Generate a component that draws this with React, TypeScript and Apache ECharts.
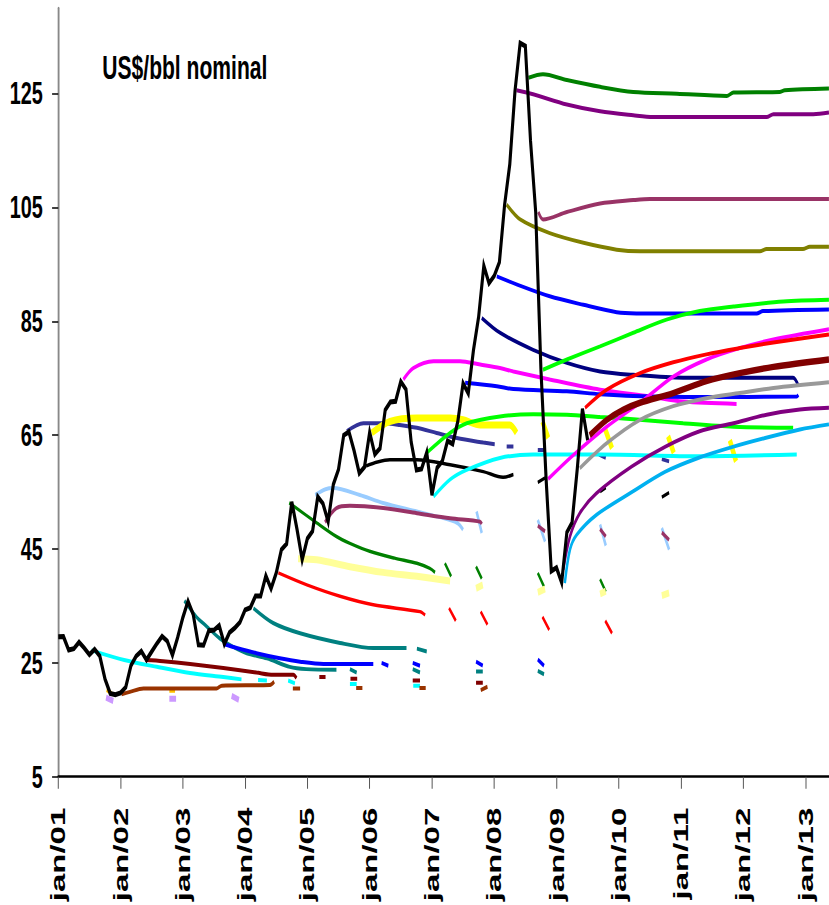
import React, { useEffect, useRef } from 'react';
import * as echarts from 'echarts';

type Pt = [number, number];

// The reference is horizontally squeezed; we draw wide and squeeze with CSS.
const SQUEEZE = 0.62;
const PAGE_W = 829;
const PAGE_H = 905;
const CHART_W = Math.round(PAGE_W / SQUEEZE);

const unitTitle = 'US$/bbl nominal';
const yTickLabels = [5, 25, 45, 65, 85, 105, 125];
const xTickLabels = ['jan/01', 'jan/02', 'jan/03', 'jan/04', 'jan/05', 'jan/06', 'jan/07', 'jan/08', 'jan/09', 'jan/10', 'jan/11', 'jan/12', 'jan/13'];

// Monthly spot price, Jan 2001 .. Jul 2009 (x = months since Jan 2001)
const spotHistory = [
  29.59, 29.61, 27.25, 27.49, 28.63, 27.6, 26.43, 27.37, 26.2, 22.17, 19.64, 19.39,
  19.72, 20.72, 24.53, 26.18, 27.04, 25.52, 26.97, 28.39, 29.66, 28.84, 26.35, 29.46,
  32.95, 35.83, 33.51, 28.17, 28.11, 30.66, 30.76, 31.57, 28.31, 30.34, 31.11, 32.13,
  34.31, 34.69, 36.74, 36.75, 40.28, 38.03, 40.78, 44.9, 45.94, 53.28, 48.47, 43.15,
  46.84, 48.15, 54.19, 52.98, 49.83, 56.35, 59.0, 64.99, 65.59, 62.26, 58.32, 59.41,
  65.49, 61.63, 62.69, 69.44, 70.84, 70.95, 74.41, 73.04, 63.8, 58.89, 59.08, 61.96,
  54.51, 59.28, 60.44, 63.98, 63.46, 67.49, 74.12, 72.36, 79.92, 85.8, 94.77, 91.69,
  92.97, 95.39, 105.45, 112.58, 125.4, 133.88, 133.37, 116.67, 104.11, 76.61, 57.31, 41.12,
  41.71, 39.09, 47.94, 49.65, 59.03, 69.64, 64.15,
];

// Forward curves: segments of [month, price]
const cyanEarly: Pt[][] = [
  [[6.4, 27.2], [12.7, 25.5], [19.0, 24.3], [25.4, 23.2], [31.8, 22.5], [35.3, 22.1]],
  [[38.5, 22.0], [40.2, 21.9]], [[44.3, 21.9], [45.6, 21.4]], [[56.2, 21.3], [57.5, 21.3]], [[68.4, 21.0], [69.7, 21.0]],
];
const orangeDashes: Pt[][] = [[[9.3, 20.2], [10.3, 19.7]], [[21.4, 20.1], [22.5, 20.1]]];
const lavenderDashes: Pt[][] = [[[9.2, 18.9], [10.6, 18.3]], [[21.4, 18.7], [22.7, 18.7]], [[33.4, 19.2], [34.8, 18.5]]];
const brownCurve: Pt[][] = [
  [[12.2, 19.5], [13.8, 19.9], [16.4, 20.5], [22.2, 20.5], [30.5, 20.5], [31.5, 21.0], [40.8, 21.1], [41.6, 21.7]],
  [[45.2, 20.5], [46.6, 20.5]], [[57.4, 20.6], [58.6, 20.6]], [[69.6, 20.6], [70.8, 20.6]], [[81.4, 20.2], [82.7, 20.8]],
];
const maroonCurve: Pt[][] = [
  [[16.8, 25.5], [20.2, 25.3], [25.4, 24.8], [31.8, 24.1], [38.2, 23.3], [41.4, 22.9], [45.3, 22.9], [45.9, 22.3]],
  [[50.3, 22.5], [51.5, 22.5]], [[56.3, 22.2], [57.6, 22.2]], [[68.3, 21.9], [69.7, 21.9]], [[80.5, 21.5], [81.8, 21.5]],
];
const tealEarly: Pt[][] = [
  [[24.3, 35.9], [26.6, 33.1], [28.6, 31.4], [31.1, 29.3], [33.7, 27.8], [36.3, 26.7], [40.2, 25.8], [44.6, 24.3], [47.8, 23.9], [53.6, 23.8]],
  [[56.2, 23.9], [57.5, 23.3]], [[68.3, 23.9], [69.7, 23.3]], [[80.5, 23.5], [81.8, 23.5]], [[92.4, 23.6], [93.6, 23.0]],
];
const blueEarly: Pt[][] = [
  [[31.8, 28.3], [34.4, 27.6], [38.2, 26.7], [42.7, 25.8], [46.6, 25.2], [51.1, 24.8], [60.7, 24.8]],
  [[62.3, 25.0], [63.6, 24.5]], [[68.3, 25.0], [69.7, 24.5]], [[80.5, 25.2], [81.8, 24.5]], [[92.4, 25.6], [93.6, 24.5]],
];
const tealLater: Pt[][] = [
  [[37.6, 34.6], [41.4, 32.0], [46.6, 30.2], [54.3, 28.5], [60.7, 27.6], [67.1, 27.6]],
  [[69.1, 27.5], [71.0, 27.0]],
];
const redEarly: Pt[][] = [
  [[42.4, 40.8], [47.9, 38.7], [54.3, 36.7], [60.7, 35.2], [69.7, 34.0], [70.7, 33.4]],
  [[75.3, 34.6], [76.6, 32.4]], [[81.4, 34.0], [82.7, 31.7]], [[93.3, 33.1], [94.6, 30.8]], [[105.4, 32.4], [106.7, 30.2]],
];
const greenEarly: Pt[][] = [
  [[44.5, 53.1], [49.8, 49.6], [53.6, 47.2], [56.2, 46.0], [60.0, 44.6], [64.8, 43.4], [69.1, 42.5], [71.6, 41.6], [72.6, 40.9]],
  [[74.5, 42.5], [75.7, 40.2]], [[80.5, 41.9], [81.6, 39.8]], [[92.4, 40.8], [93.6, 38.4]], [[104.4, 39.7], [105.5, 37.5]],
];
const paleYellow: Pt[][] = [
  [[46.2, 43.3], [49.8, 43.1], [56.2, 41.9], [62.6, 40.9], [69.1, 40.2], [75.5, 39.4]],
  [[80.5, 38.1], [81.8, 38.7]], [[92.4, 37.4], [93.8, 38.0]], [[104.4, 37.1], [105.5, 37.6]], [[116.3, 36.8], [117.7, 37.3]],
];
const paleBlue: Pt[][] = [
  [[49.5, 54.5], [51.5, 55.5], [53.0, 55.7], [58.1, 54.5], [62.6, 53.1], [69.1, 51.6], [75.5, 50.1], [77.0, 49.5], [78.0, 48.4]],
  [[80.6, 51.6], [81.6, 47.8]], [[92.4, 50.1], [93.8, 46.3]], [[104.4, 49.3], [105.5, 45.6]], [[116.3, 48.7], [117.7, 44.9]],
];
const plumEarly: Pt[][] = [
  [[51.4, 49.7], [53.6, 52.2], [56.2, 52.6], [62.6, 52.2], [69.1, 51.3], [75.5, 50.4], [81.3, 49.8], [81.6, 49.4]],
  [[92.4, 49.1], [93.8, 48.1]], [[104.4, 48.5], [105.5, 47.2]], [[116.3, 47.9], [117.7, 46.6]],
];
const slateCurve: Pt[][] = [
  [[55.6, 65.7], [58.8, 67.1], [62.6, 67.1], [65.8, 66.8], [69.1, 66.3], [72.9, 65.4], [76.8, 64.5], [81.9, 63.7], [84.1, 63.4]],
  [[86.4, 63.0], [87.7, 63.0]], [[92.4, 62.4], [93.8, 62.4]], [[104.2, 61.6], [105.5, 61.0]], [[116.3, 60.8], [117.7, 60.4]],
];
const blackForward: Pt[][] = [
  [[59.3, 59.6], [61.5, 60.3], [63.9, 60.7], [69.1, 60.7], [75.5, 59.8], [81.9, 58.6], [85.7, 57.6], [87.7, 58.1]],
  [[92.4, 56.7], [93.8, 57.5]], [[104.4, 55.1], [105.5, 55.8]], [[116.3, 54.1], [117.7, 54.9]],
];
const yellowCurve: Pt[][] = [
  [[60.4, 65.4], [63.9, 67.4], [69.1, 68.0], [75.5, 68.0], [78.0, 67.7], [81.3, 66.8], [87.0, 66.8], [88.3, 65.4]],
  [[93.3, 67.4], [94.4, 64.5]], [[105.4, 66.0], [106.7, 62.7]], [[117.5, 64.8], [118.6, 61.9]], [[129.4, 64.1], [130.6, 60.4]],
];
const magentaMid: Pt[][] = [
  [[66.5, 74.8], [68.4, 76.8], [72.3, 78.0], [77.4, 78.0], [81.3, 77.4], [85.1, 76.8], [87.7, 76.2], [94.7, 74.8], [104.4, 73.0], [114.0, 71.8], [120.4, 70.9], [130.7, 70.5]],
];
const blueMid: Pt[][] = [
  [[78.4, 74.2], [84.5, 73.6], [87.7, 73.1], [98.0, 72.7], [104.4, 72.2], [110.8, 71.9], [123.6, 71.7], [142.3, 71.8], [142.6, 72.1]],
];
const limeLow: Pt[][] = [
  [[71.0, 61.9], [75.5, 65.4], [78.7, 67.1], [85.1, 68.3], [91.5, 68.7], [98.0, 68.6], [104.4, 68.2], [110.8, 67.8], [120.4, 67.1], [130.1, 66.5], [141.6, 66.3]],
];
const cyanMid: Pt[][] = [
  [[72.3, 54.2], [75.5, 57.2], [78.7, 58.9], [85.1, 61.0], [91.5, 61.6], [104.4, 61.6], [123.6, 61.3], [142.3, 61.6]],
];
const navyCurve: Pt[][] = [
  [[81.6, 85.6], [85.1, 83.0], [91.5, 80.0], [98.0, 77.7], [104.4, 76.2], [110.8, 75.6], [120.4, 75.1], [141.6, 75.1], [142.6, 73.7]],
];
const blueHigh: Pt[][] = [
  [[84.5, 92.9], [88.3, 91.5], [94.7, 89.4], [101.2, 87.9], [107.6, 86.6], [111.4, 86.4], [134.6, 86.4], [135.8, 86.8], [148.5, 87.1]],
];
const oliveCurve: Pt[][] = [
  [[86.4, 105.5], [89.0, 102.9], [94.7, 100.5], [101.2, 98.8], [107.6, 97.6], [112.1, 97.3], [135.2, 97.3], [136.5, 97.7], [143.5, 97.7], [144.8, 98.1], [148.5, 98.1]],
];
const purpleHigh: Pt[][] = [
  [[88.3, 125.6], [91.5, 124.9], [98.0, 123.1], [104.4, 121.9], [110.8, 121.2], [114.6, 120.9], [136.5, 120.9], [137.8, 121.4], [145.5, 121.4], [148.5, 121.7]],
];
const greenHigh: Pt[][] = [
  [[90.6, 127.8], [93.4, 128.4], [98.0, 127.4], [104.4, 126.2], [110.8, 125.3], [119.2, 125.0], [128.8, 124.6], [130.1, 125.2], [139.0, 125.3], [140.0, 125.6], [148.5, 125.9]],
];
const plumHigh: Pt[][] = [
  [[92.5, 104.2], [93.4, 102.9], [98.0, 104.2], [104.4, 105.7], [110.8, 106.3], [114.0, 106.5], [148.5, 106.5]],
];
const limeHigh: Pt[][] = [
  [[93.4, 76.5], [98.0, 78.3], [104.4, 80.6], [110.8, 83.0], [117.2, 85.3], [123.6, 86.8], [130.1, 87.6], [139.7, 88.5], [148.5, 88.8]],
];
const magentaLate: Pt[][] = [
  [[94.4, 57.3], [99.0, 61.3], [105.7, 66.5], [112.1, 70.7], [118.5, 75.3], [124.9, 78.3], [131.3, 80.3], [137.8, 81.8], [148.5, 83.6]],
];
const purpleLow: Pt[][] = [
  [[97.3, 41.4], [98.6, 47.2], [100.5, 51.3], [103.7, 54.8], [110.5, 59.5], [117.0, 63.0], [123.6, 65.7], [130.1, 67.1], [136.5, 68.6], [142.9, 69.5], [148.5, 69.8]],
];
const skyLow: Pt[][] = [
  [[97.6, 39.0], [98.6, 44.9], [99.9, 47.5], [103.7, 51.0], [110.5, 55.0], [117.0, 58.6], [123.3, 61.0], [129.8, 62.9], [136.2, 64.5], [142.9, 66.0], [148.5, 66.9]],
];
const grayCurve: Pt[][] = [
  [[100.5, 59.2], [105.7, 63.6], [112.1, 67.7], [118.5, 70.1], [124.9, 71.5], [131.3, 72.4], [137.8, 73.3], [148.5, 74.3]],
];
const redLate: Pt[][] = [
  [[101.5, 69.8], [105.7, 73.0], [112.1, 75.9], [118.5, 77.8], [124.9, 79.2], [131.3, 80.3], [137.8, 81.3], [148.5, 82.7]],
];
const maroonLate: Pt[][] = [
  [[102.4, 65.0], [105.7, 67.7], [108.9, 69.5], [112.1, 70.7], [118.5, 72.4], [124.9, 74.5], [131.3, 75.9], [137.8, 77.0], [148.5, 78.3]],
];

const curveStyles: [Pt[][], string, number][] = [
  [cyanEarly, '#00FFFF', 4],
  [orangeDashes, '#FFC000', 4],
  [lavenderDashes, '#CC99FF', 6],
  [brownCurve, '#993300', 4],
  [maroonCurve, '#800000', 4],
  [tealEarly, '#008080', 4],
  [blueEarly, '#0000FF', 4],
  [tealLater, '#008080', 4],
  [redEarly, '#FF0000', 3.5],
  [greenEarly, '#008000', 3.5],
  [paleYellow, '#FFFF99', 7],
  [paleBlue, '#99CCFF', 4],
  [plumEarly, '#993366', 4],
  [slateCurve, '#333399', 4],
  [blackForward, '#000000', 3.5],
  [yellowCurve, '#FFFF00', 7],
  [magentaMid, '#FF00FF', 4],
  [blueMid, '#0000FF', 4],
  [limeLow, '#00FF00', 4],
  [cyanMid, '#00FFFF', 4],
  [navyCurve, '#000080', 4],
  [blueHigh, '#0000FF', 4],
  [oliveCurve, '#808000', 4],
  [purpleHigh, '#800080', 4],
  [greenHigh, '#008000', 4],
  [plumHigh, '#993366', 4],
  [limeHigh, '#00FF00', 4],
  [magentaLate, '#FF00FF', 4],
  [purpleLow, '#800080', 4],
  [skyLow, '#00B0F0', 4],
  [grayCurve, '#999999', 4],
  [redLate, '#FF0000', 4],
  [maroonLate, '#800000', 6.5],
];

function joinSegments(segs: Pt[][]) {
  const out: any[] = [];
  segs.forEach((s, i) => {
    if (i > 0) {
      const prev = segs[i - 1];
      out.push([(prev[prev.length - 1][0] + s[0][0]) / 2, '-']);
    }
    s.forEach((p) => out.push([p[0], p[1]]));
  });
  return out;
}

const FONT = "'Liberation Sans', Arial, Helvetica, sans-serif";

export default function App() {
  const ref = useRef<HTMLDivElement>(null);
  useEffect(() => {
    if (!ref.current) return;
    const chart = echarts.init(ref.current, undefined, { renderer: 'svg', width: CHART_W, height: PAGE_H });
    const series: any[] = curveStyles.map(([segs, color, width]) => ({
      type: 'line',
      data: joinSegments(segs),
      smooth: 0.3,
      showSymbol: false,
      symbol: 'none',
      connectNulls: false,
      silent: true,
      lineStyle: { color, width },
      itemStyle: { color },
    }));
    series.push({
      type: 'line',
      data: spotHistory.map((v, i) => [i, v]),
      showSymbol: false,
      symbol: 'none',
      silent: true,
      lineStyle: { color: '#000000', width: 5, join: 'miter' },
      itemStyle: { color: '#000000' },
    });
    chart.setOption({
      animation: false,
      backgroundColor: '#ffffff',
      grid: { left: 94, right: 0, top: 8.3, bottom: 128.3, containLabel: false, outerBoundsMode: 'none' },
      xAxis: {
        type: 'value',
        min: 0,
        max: 148.5,
        interval: 12,
        splitLine: { show: false },
        axisLine: { show: true, lineStyle: { color: '#000', width: 2.5 } },
        axisTick: { show: true, length: 12, lineStyle: { color: '#555', width: 1.6 } },
        axisLabel: {
          rotate: 90,
          margin: 31,
          fontFamily: FONT,
          fontWeight: 'bold',
          fontSize: 33,
          color: '#000',
          showMaxLabel: false,
          formatter: (v: number) => (v % 12 === 0 && xTickLabels[v / 12] ? xTickLabels[v / 12] : ''),
        },
      },
      yAxis: {
        type: 'value',
        min: 5,
        max: 140,
        interval: 20,
        splitLine: { show: false },
        axisLine: { show: true, lineStyle: { color: '#888', width: 3 } },
        axisTick: { show: true, length: 10, lineStyle: { color: '#000', width: 1.5 } },
        axisLabel: {
          margin: 25,
          fontFamily: FONT,
          fontWeight: 'bold',
          fontSize: 32,
          color: '#000',
          showMaxLabel: false,
          formatter: (v: number) => (yTickLabels.includes(v) ? String(v) : ''),
        },
      },
      graphic: [
        {
          type: 'text',
          x: 165,
          y: 67,
          silent: true,
          style: {
            text: unitTitle,
            fontFamily: FONT,
            fontWeight: 'bold',
            fontSize: 34,
            fill: '#000',
            verticalAlign: 'middle',
            align: 'left',
          },
        },
      ],
      series,
    });
    return () => chart.dispose();
  }, []);
  return (
    <div
      style={{
        position: 'fixed',
        left: 0,
        top: 0,
        width: PAGE_W,
        height: PAGE_H,
        overflow: 'hidden',
        background: '#fff',
      }}
    >
      <div
        ref={ref}
        style={{
          width: CHART_W,
          height: PAGE_H,
          transform: `scaleX(${SQUEEZE})`,
          transformOrigin: '0 0',
        }}
      />
    </div>
  );
}
